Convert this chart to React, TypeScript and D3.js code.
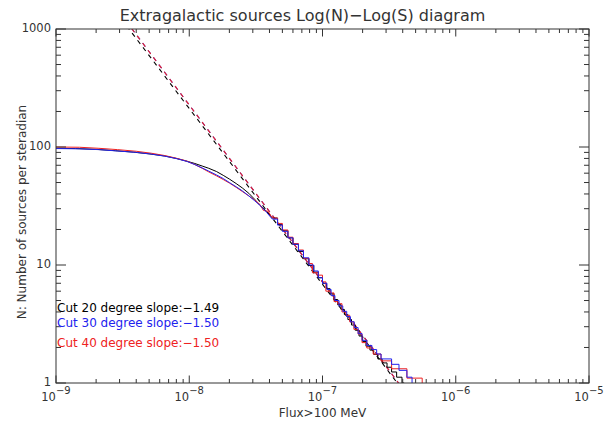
import { useEffect, useRef } from 'react';
import * as d3 from 'd3';

type Pt = [number, number];

// cumulative counts N(>S): [flux, N per sr]
const cut20: Pt[] = [
  [1.0e-9, 97.5], [1.4e-9, 97], [2.0e-9, 95.5], [2.8e-9, 93], [3.8e-9, 90.5],
  [5.0e-9, 87.5], [6.5e-9, 84], [8.0e-9, 80], [9.5e-9, 76], [1.1e-8, 72.5],
  [1.25e-8, 69], [1.4e-8, 66], [1.6e-8, 62], [1.8e-8, 57.5], [2.0e-8, 53.5],
  [2.25e-8, 49], [2.5e-8, 45], [2.8e-8, 40.5], [3.1e-8, 36], [3.4e-8, 32],
  [3.8e-8, 28.5], [4.2e-8, 25], [4.6e-8, 22], [5.0e-8, 19.5], [5.5e-8, 17],
  [6.0e-8, 15], [6.6e-8, 13], [7.2e-8, 11.3], [7.9e-8, 9.9], [8.6e-8, 8.7],
  [9.3e-8, 7.8], [1.0e-7, 7.0], [1.07e-7, 6.3], [1.14e-7, 5.7], [1.22e-7, 5.1],
  [1.3e-7, 4.6], [1.38e-7, 4.2], [1.46e-7, 3.8], [1.55e-7, 3.45], [1.65e-7, 3.1],
  [1.76e-7, 2.8], [1.88e-7, 2.5], [2.0e-7, 2.25], [2.12e-7, 2.05], [2.27e-7, 1.9],
  [2.42e-7, 1.75], [2.6e-7, 1.6], [2.8e-7, 1.48], [3.05e-7, 1.36], [3.3e-7, 1.24],
  [3.6e-7, 1.12], [3.95e-7, 1.0], [4.1e-7, 0.8],
];

const cut30: Pt[] = [
  [1.0e-9, 97], [1.5e-9, 96.5], [2.1e-9, 95], [2.9e-9, 92.5], [4.0e-9, 90],
  [5.2e-9, 87], [6.6e-9, 83.5], [8.1e-9, 79.5], [9.6e-9, 75.5], [1.1e-8, 71],
  [1.25e-8, 66.5], [1.4e-8, 62.5], [1.6e-8, 58], [1.8e-8, 54], [2.0e-8, 50],
  [2.25e-8, 46], [2.5e-8, 42.5], [2.8e-8, 38.5], [3.1e-8, 35], [3.45e-8, 31.5],
  [3.8e-8, 28], [4.2e-8, 24.5], [4.6e-8, 21.8], [5.0e-8, 19.3], [5.5e-8, 17],
  [6.0e-8, 15], [6.6e-8, 13.2], [7.2e-8, 11.5], [7.9e-8, 10], [8.6e-8, 8.9],
  [9.3e-8, 7.8], [1.0e-7, 7.0], [1.08e-7, 6.2], [1.16e-7, 5.5], [1.24e-7, 5.0],
  [1.33e-7, 4.5], [1.42e-7, 4.05], [1.52e-7, 3.65], [1.62e-7, 3.3], [1.73e-7, 2.95],
  [1.85e-7, 2.62], [1.98e-7, 2.3], [2.15e-7, 2.08], [2.35e-7, 1.92], [2.55e-7, 1.76],
  [2.75e-7, 1.6], [3.3e-7, 1.44], [3.75e-7, 1.28], [4.3e-7, 1.12], [4.7e-7, 0.8],
];

const cut40: Pt[] = [
  [1.0e-9, 100], [1.5e-9, 99.5], [2.1e-9, 97.5], [2.9e-9, 95], [4.0e-9, 92],
  [5.2e-9, 88.5], [6.6e-9, 84.5], [8.1e-9, 80], [9.6e-9, 76], [1.1e-8, 71],
  [1.25e-8, 66], [1.4e-8, 61.5], [1.6e-8, 57], [1.8e-8, 53], [2.0e-8, 49.5],
  [2.25e-8, 45.5], [2.5e-8, 42], [2.8e-8, 38.5], [3.1e-8, 35.5], [3.4e-8, 32.5],
  [3.6e-8, 29], [3.9e-8, 28.5], [4.2e-8, 25], [4.6e-8, 22.5], [5.0e-8, 19.8],
  [5.5e-8, 17.2], [6.0e-8, 15.2], [6.6e-8, 13.4], [7.2e-8, 11.4], [7.9e-8, 10.3],
  [8.4e-8, 8.6], [9.3e-8, 8.2], [1.0e-7, 7.2], [1.06e-7, 6.0], [1.15e-7, 5.8],
  [1.22e-7, 4.9], [1.3e-7, 4.7], [1.4e-7, 4.0], [1.5e-7, 3.75], [1.6e-7, 3.3],
  [1.72e-7, 2.85], [1.85e-7, 2.6], [1.98e-7, 2.2], [2.15e-7, 1.98], [2.4e-7, 1.76],
  [2.75e-7, 1.54], [3.3e-7, 1.32], [4.3e-7, 1.1], [5.6e-7, 0.8],
];

const seriesData = [cut20, cut30, cut40];
const cutLabels = ['Cut 20 degree', 'Cut 30 degree', 'Cut 40 degree'];
const fitSlopes = [-1.49, -1.5, -1.5];
// fitted N at S = 1e-8
const fitNorms = [212, 227, 227];
// legend anchor N values (placed at S = 1e-9)
const legendN = [4, 3, 2];
const colors = ['#000000', '#2222ee', '#ee2222'];

const xDomain: [number, number] = [1e-9, 1e-5];
const yDomain: [number, number] = [1, 1000];
// below this flux the dense steps read as a smooth line
const smoothBelow = 4e-8;

const W = 607;
const H = 425;
const margin = { top: 29, right: 18, bottom: 42, left: 56 };
const font = 'DejaVu Sans, sans-serif';
const ink = '#333';

export default function App() {
  const svgRef = useRef<SVGSVGElement>(null);

  useEffect(() => {
    document.body.style.margin = '0';
    if (!svgRef.current) return;
    const root = d3.select(svgRef.current);
    root.selectAll('*').remove();

    const x = d3.scaleLog().domain(xDomain).range([margin.left, W - margin.right]);
    const y = d3.scaleLog().domain(yDomain).range([H - margin.bottom, margin.top]);
    const [x0, x1] = x.range();
    const [y0, y1] = y.range();

    root.append('rect').attr('width', W).attr('height', H).attr('fill', '#fff');

    root
      .append('clipPath')
      .attr('id', 'plot-clip')
      .append('rect')
      .attr('x', x0)
      .attr('y', y1)
      .attr('width', x1 - x0)
      .attr('height', y0 - y1);

    const plot = root.append('g').attr('clip-path', 'url(#plot-clip)');

    // fit lines
    fitSlopes.forEach((s, i) => {
      const f = (S: number) => fitNorms[i] * Math.pow(S / 1e-8, s);
      const pts: Pt[] = [
        [1e-9, f(1e-9)],
        [1e-6, f(1e-6)],
      ];
      plot
        .append('path')
        .attr(
          'd',
          d3
            .line<Pt>()
            .x((d) => x(d[0]))
            .y((d) => y(d[1]))(pts)
        )
        .attr('fill', 'none')
        .attr('stroke', colors[i])
        .attr('stroke-width', 1.1)
        .attr('stroke-dasharray', '4.5,4.5');
    });

    // cumulative curves: smooth where steps are dense, stairs where sparse
    const smooth = d3
      .line<Pt>()
      .x((d) => x(d[0]))
      .y((d) => y(d[1]));
    const step = d3
      .line<Pt>()
      .x((d) => x(d[0]))
      .y((d) => y(d[1]))
      .curve(d3.curveStepAfter);
    [0, 2, 1].forEach((i) => {
      const data = seriesData[i];
      const k = data.findIndex((d) => d[0] >= smoothBelow);
      plot
        .append('path')
        .attr('d', (smooth(data.slice(0, k + 1)) ?? '') + (step(data.slice(k)) ?? ''))
        .attr('fill', 'none')
        .attr('stroke', colors[i])
        .attr('stroke-width', 1);
    });

    // frame
    const axes = root.append('g').attr('stroke', ink).attr('stroke-width', 1);
    axes
      .append('rect')
      .attr('x', x0)
      .attr('y', y1)
      .attr('width', x1 - x0)
      .attr('height', y0 - y1)
      .attr('fill', 'none');

    const isMajor = (v: number) => Math.abs(Math.log10(v) - Math.round(Math.log10(v))) < 1e-6;

    x.ticks().forEach((v) => {
      const len = isMajor(v) ? 7.5 : 4;
      const px = x(v);
      axes.append('line').attr('x1', px).attr('x2', px).attr('y1', y0).attr('y2', y0 - len);
      axes.append('line').attr('x1', px).attr('x2', px).attr('y1', y1).attr('y2', y1 + len);
    });
    y.ticks().forEach((v) => {
      const len = isMajor(v) ? 10 : 5;
      const py = y(v);
      axes.append('line').attr('x1', x0).attr('x2', x0 + len).attr('y1', py).attr('y2', py);
      axes.append('line').attr('x1', x1).attr('x2', x1 - len).attr('y1', py).attr('y2', py);
    });

    // tick labels
    const txt = root.append('g').attr('font-family', font).attr('fill', ink);
    x.ticks()
      .filter(isMajor)
      .forEach((v) => {
        const t = txt
          .append('text')
          .attr('x', x(v))
          .attr('y', y0 + 18)
          .attr('text-anchor', 'middle')
          .attr('font-size', 11.5);
        t.append('tspan').text('10');
        t.append('tspan')
          .attr('dy', -7)
          .attr('font-size', 10)
          .text(`\u2212${Math.abs(Math.round(Math.log10(v)))}`);
      });
    y.ticks()
      .filter(isMajor)
      .forEach((v) => {
        txt
          .append('text')
          .attr('x', x0 - 5)
          .attr('y', y(v) + 3)
          .attr('text-anchor', 'end')
          .attr('font-size', 11.5)
          .text(String(v));
      });

    // titles
    txt
      .append('text')
      .attr('x', (x0 + x1) / 2 - 20)
      .attr('y', 21)
      .attr('text-anchor', 'middle')
      .attr('font-size', 16)
      .text('Extragalactic sources Log(N)\u2212Log(S) diagram');
    txt
      .append('text')
      .attr('x', (x0 + x1) / 2)
      .attr('y', H - 8)
      .attr('text-anchor', 'middle')
      .attr('font-size', 12)
      .text('Flux>100 MeV');
    txt
      .append('text')
      .attr('transform', `translate(26,${(y0 + y1) / 2 + 6}) rotate(-90)`)
      .attr('text-anchor', 'middle')
      .attr('font-size', 12)
      .text('N: Number of sources per steradian');

    // legend
    cutLabels.forEach((lab, i) => {
      root
        .append('text')
        .attr('x', x(xDomain[0]) + 1)
        .attr('y', y(legendN[i]))
        .attr('font-family', font)
        .attr('font-size', 12)
        .attr('fill', colors[i])
        .text(`${lab} slope:\u2212${Math.abs(fitSlopes[i]).toFixed(2)}`);
    });
  }, []);

  return <svg ref={svgRef} width={W} height={H} style={{ display: 'block' }} />;
}
